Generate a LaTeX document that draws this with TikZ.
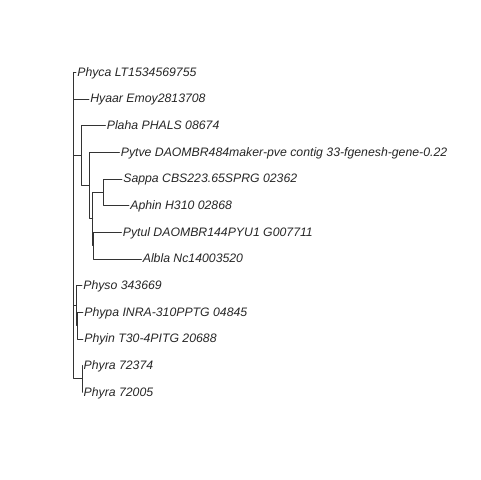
\documentclass[tikz,border=0pt]{standalone}
\usepackage{fontspec}
\setmainfont{Liberation Sans}
\usetikzlibrary{positioning}

\begin{document}
\begin{tikzpicture}[x=0.75pt, y=-0.75pt, line cap=round, line join=round]
	\useasboundingbox (0,0) rectangle (480,480);
	
	\tikzset{
		edge/.style={line width=0.6pt, black!80},
		tip/.style={anchor=mid west, inner sep=0.8pt, text=black!85,
			font=\itshape\fontsize{9.2}{10}\selectfont}
	}
	
	% internal nodes
	\coordinate (root)  at (73.3,225.33);
	\coordinate (cladeA) at (81.5,155.33);
	\coordinate (pyth)  at (89,185.33);
	\coordinate (core)  at (92.7,218.67);
	\coordinate (sapro) at (103.3,192);
	\coordinate (albu)  at (93.5,245.33);
	\coordinate (cladeB) at (76,305.33);
	\coordinate (inf)   at (77.5,325.33);
	\coordinate (ram)   at (82,378.67);
	
	% tips
	\node[tip] (phyca) at (76,72.5)      {Phyca LT1534569755};
	\node[tip] (hyaar) at (89,99.17)   {Hyaar Emoy2813708};
	\node[tip] (plaha) at (105.5,125.83) {Plaha PHALS 08674};
	\node[tip] (pytve) at (119.5,152.5)  {Pytve DAOMBR484maker-pve contig 33-fgenesh-gene-0.22};
	\node[tip] (sappa) at (122,179.17) {Sappa CBS223.65SPRG 02362};
	\node[tip] (aphin) at (129,205.83) {Aphin H310 02868};
	\node[tip] (pytul) at (121.5,232.5)  {Pytul DAOMBR144PYU1 G007711};
	\node[tip] (albla) at (141.5,259.17) {Albla Nc14003520};
	\node[tip] (physo) at (82,285.83)  {Physo 343669};
	\node[tip] (phypa) at (83,312.5)     {Phypa INRA-310PPTG 04845};
	\node[tip] (phyin) at (83,339.17)  {Phyin T30-4PITG 20688};
	\node[tip] (phyrA) at (82.3,365.83) {Phyra 72374};
	\node[tip] (phyrB) at (82.3,392.5)   {Phyra 72005};
	
	% branches
	\draw[edge] (root) |- (phyca.mid west);
	\draw[edge] (root) |- (hyaar.mid west);
	\draw[edge] (root) |- (cladeA);
	\draw[edge] (root) |- (cladeB);
	\draw[edge] (root) |- (ram);
	
	\draw[edge] (cladeA) |- (plaha.mid west);
	\draw[edge] (cladeA) |- (pyth);
	\draw[edge] (pyth) |- (pytve.mid west);
	\draw[edge] (pyth) |- (core);
	\draw[edge] (core) |- (sapro);
	\draw[edge] (core) |- (albu);
	\draw[edge] (sapro) |- (sappa.mid west);
	\draw[edge] (sapro) |- (aphin.mid west);
	\draw[edge] (albu) |- (pytul.mid west);
	\draw[edge] (albu) |- (albla.mid west);
	
	\draw[edge] (cladeB) |- (physo.mid west);
	\draw[edge] (cladeB) |- (inf);
	\draw[edge] (inf) |- (phypa.mid west);
	\draw[edge] (inf) |- (phyin.mid west);
	
	\draw[edge] (ram) |- (phyrA.mid west);
	\draw[edge] (ram) |- (phyrB.mid west);
	
\end{tikzpicture}
\end{document}
